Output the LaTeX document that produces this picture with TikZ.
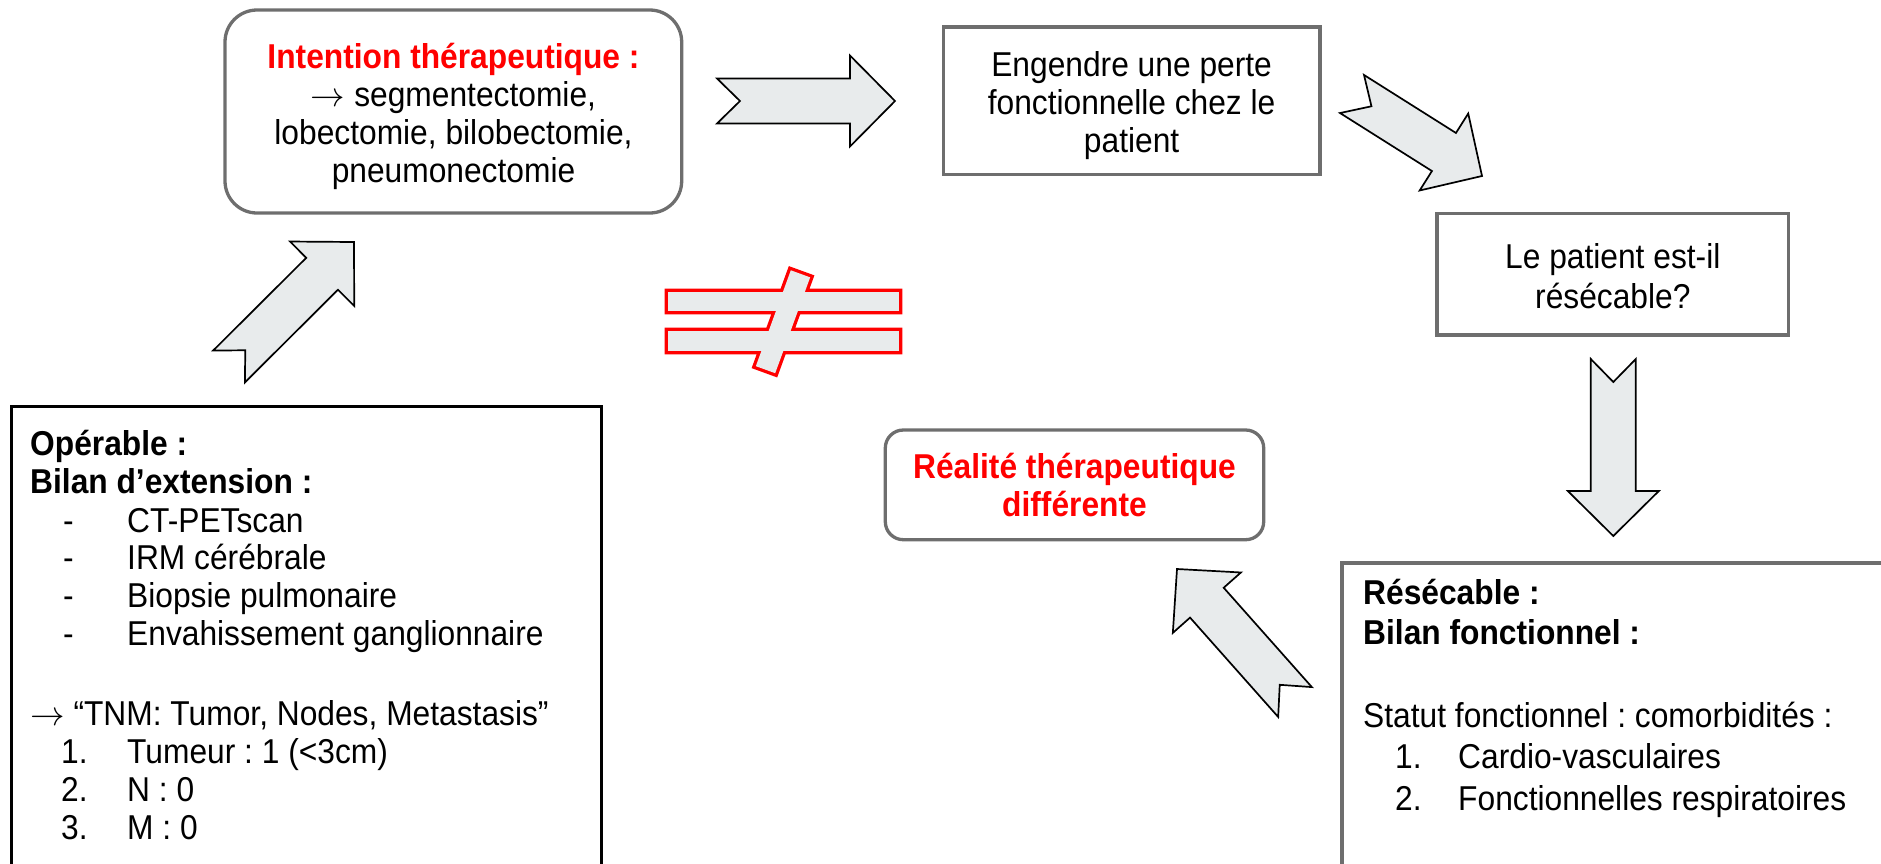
\RequirePackage{fix-cm}
\documentclass[tikz,border=0pt]{standalone}
\usepackage{fontspec}
\setmainfont{Liberation Sans}[FakeStretch=0.92]
\usetikzlibrary{calc}
\definecolor{bordergray}{RGB}{110,110,110}
\definecolor{arrowfill}{RGB}{232,235,236}
\definecolor{pred}{RGB}{255,0,0}
\newcommand\fsA{\fontsize{34.5}{38}\selectfont}
\newcommand\rarr{$\rightarrow$}
% #1 prefix, tail centre (#1s) and tip (#1e) must exist
\newcommand\blockarrow[1]{%
  \coordinate (#1h) at ($(#1e)!45pt!(#1s)$);
  \draw[barrow] ($(#1s)!22.5pt!90:(#1e)$) -- ($(#1s)!23pt!(#1e)$) -- ($(#1s)!22.5pt!-90:(#1e)$)
    -- ($(#1h)!22.5pt!-90:(#1e)$) -- ($(#1h)!45.5pt!-90:(#1e)$) -- (#1e)
    -- ($(#1h)!45.5pt!90:(#1e)$) -- ($(#1h)!22.5pt!90:(#1e)$) -- cycle;}
\frenchspacing
\begin{document}
\begin{tikzpicture}[x=1pt,y=-1pt,
  box/.style={draw=bordergray, line width=3.3pt, inner sep=0pt, outer sep=0pt},
  rbox/.style={box, rounded corners=32pt},
  lbl/.style={align=center, inner sep=0pt},
  ltxt/.style={anchor=base west, inner sep=0pt, font=\fsA},
  barrow/.style={draw=black, line width=1.7pt, fill=arrowfill, line join=miter, miter limit=10},
  neq/.style={fill=arrowfill}]
\useasboundingbox (0,0) rectangle (1881,863);
\clip (0,0) rectangle (1881,863);

% boxes
\node[rbox, minimum width=456.7pt, minimum height=203pt] (intent) at (453.35,111.5) {};
\node[lbl, font=\fsA] (intenttxt) at (453.5,116) {\textcolor{pred}{\bfseries Intention thérapeutique :}\\\rarr{} segmentectomie,\\lobectomie, bilobectomie,\\pneumonectomie};

\node[box, minimum width=376.7pt, minimum height=147.7pt] (perte) at (1131.65,100.85) {};
\node[lbl, font=\fsA] (pertetxt) at (1131.6,105.5) {Engendre une perte\\fonctionnelle chez le\\patient};

\node[box, minimum width=351.7pt, minimum height=121.3pt] (quest) at (1612.85,274.35) {};
\node[lbl, font=\fontsize{34.5}{40}\selectfont] (questtxt) at (1612.8,276.5) {Le patient est-il\\résécable?};

\node[rbox, rounded corners=18pt, minimum width=378.4pt, minimum height=109.7pt] (real) at (1074.5,484.85) {};
\node[lbl, font=\fsA\bfseries, text=pred] (realtxt) at (1074.5,485.5) {Réalité thérapeutique\\différente};

\node[box, line width=4pt, anchor=north west, minimum width=700pt, minimum height=500pt] (resec) at (1342,562.5) {};
\node[box, draw=black, line width=3pt, anchor=north west, minimum width=590pt, minimum height=500pt] (oper) at (11.5,406) {};

% text of box "Résécable"
\node[ltxt, font=\fsA\bfseries] (r1) at (1363,604) {Résécable :};
\node[ltxt, font=\fsA\bfseries] (r2) at (1363,644) {Bilan fonctionnel :};
\node[ltxt] (r3) at (1363,727) {Statut fonctionnel : comorbidités :};
\node[ltxt] (r4n) at (1395,768) {1.};
\node[ltxt] (r4) at (1458,768) {Cardio-vasculaires};
\node[ltxt] (r5n) at (1395,810) {2.};
\node[ltxt] (r5) at (1458,810) {Fonctionnelles respiratoires};

% text of box "Opérable"
\node[ltxt, font=\fsA\bfseries] (o1) at (30,455) {Opérable :};
\node[ltxt, font=\fsA\bfseries] (o2) at (30,493.5) {Bilan d’extension :};
\node[ltxt] (o3d) at (63,532) {-};
\node[ltxt] (o3) at (127,532) {CT-PETscan};
\node[ltxt] (o4d) at (63,569) {-};
\node[ltxt] (o4) at (127,569) {IRM cérébrale};
\node[ltxt] (o5d) at (63,607.5) {-};
\node[ltxt] (o5) at (127,607.5) {Biopsie pulmonaire};
\node[ltxt] (o6d) at (63,645.5) {-};
\node[ltxt] (o6) at (127,645.5) {Envahissement ganglionnaire};
\node[ltxt] (o7) at (30,725) {\rarr{} “TNM: Tumor, Nodes, Metastasis”};
\node[ltxt] (o8n) at (61,763.5) {1.};
\node[ltxt] (o8) at (127,763.5) {Tumeur : 1 (<3cm)};
\node[ltxt] (o9n) at (61,801) {2.};
\node[ltxt] (o9) at (127,801) {N : 0};
\node[ltxt] (o10n) at (61,839) {3.};
\node[ltxt] (o10) at (127,839) {M : 0};

% block arrows
\coordinate (a1s) at (717,101);    \coordinate (a1e) at (895,101);
\coordinate (a2s) at (1352,94);    \coordinate (a2e) at (1482,176);
\coordinate (a3s) at (1613.3,359); \coordinate (a3e) at (1613.3,536);
\coordinate (a4s) at (1295,702);   \coordinate (a4e) at (1177,569);
\coordinate (a5s) at (229,366.5);  \coordinate (a5e) at (354,242);
\blockarrow{a1}
\blockarrow{a2}
\blockarrow{a3}
\blockarrow{a4}
\blockarrow{a5}

% not-equal sign: red outline of the union of three shapes
\draw[pred, line width=6.6pt, line join=miter]
  (668,292) rectangle (899,311) (668,331) rectangle (899,351)
  (790.8,270.3) -- (810.15,277.35) -- (775.2,373.2) -- (755.85,366.15) -- cycle;
\fill[neq] (668,292) rectangle (899,311);
\fill[neq] (668,331) rectangle (899,351);
\fill[neq] (790.8,270.3) -- (810.15,277.35) -- (775.2,373.2) -- (755.85,366.15) -- cycle;
\end{tikzpicture}
\end{document}
